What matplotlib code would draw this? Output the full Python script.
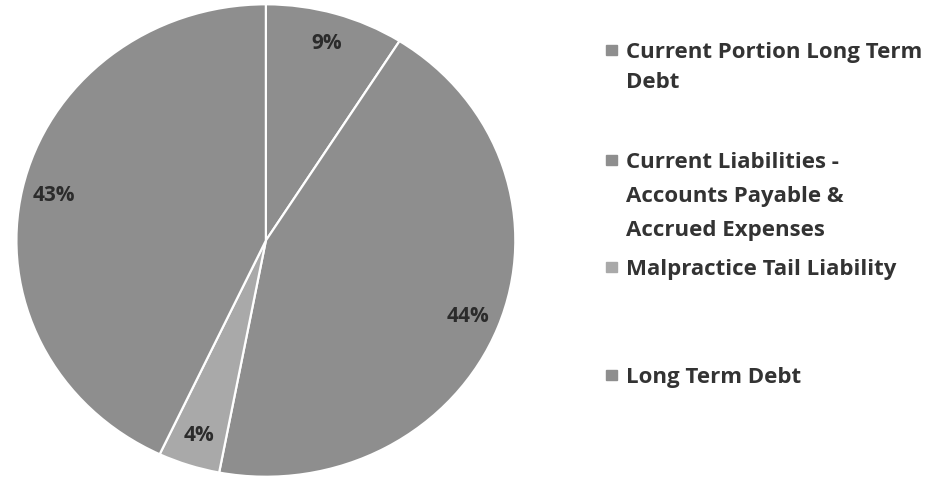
import matplotlib.pyplot as plt
from matplotlib.patches import Rectangle

plt.rcParams['font.family'] = ['Open Sans', 'DejaVu Sans']

# Liability breakdown
categories = [['Current Portion Long Term', 'Debt'],
              ['Current Liabilities -', 'Accounts Payable &', 'Accrued Expenses'],
              ['Malpractice Tail Liability'],
              ['Long Term Debt']]
shares = [9, 44, 4, 43]
colors = ['#8e8e8e', '#8e8e8e', '#a9a9a9', '#8e8e8e']

W, H = 928, 482
fig = plt.figure(figsize=(W / 100, H / 100), dpi=100)
ax = fig.add_axes([0.015, 0.006, 0.543, 0.99])

wedges, texts, autotexts = ax.pie(
    shares, colors=colors, startangle=90, counterclock=False,
    autopct='%d%%', pctdistance=0.87,
    wedgeprops=dict(edgecolor='white', linewidth=1.6),
    textprops=dict(fontsize=15, fontweight='bold', color='#2b2b2b'))
ax.set_aspect('auto')
ax.set_xlim(-1.01, 1.01)
ax.set_ylim(-1.01, 1.01)

# Legend on the right, one text per line (baselines in pixel rows)
baselines = [[58, 88], [168, 202, 236], [275], [383]]
for lines, col, rows in zip(categories, colors, baselines):
    yb = rows[0]
    fig.patches.append(Rectangle((606 / W, 1 - (yb - 3) / H), 11 / W, 10 / H,
                                 transform=fig.transFigure, color=col))
    for text, row in zip(lines, rows):
        fig.text(626 / W, 1 - row / H, text, fontsize=16, fontweight='bold',
                 color='#333333', va='baseline', ha='left')

fig.savefig('out.png', dpi=100)
